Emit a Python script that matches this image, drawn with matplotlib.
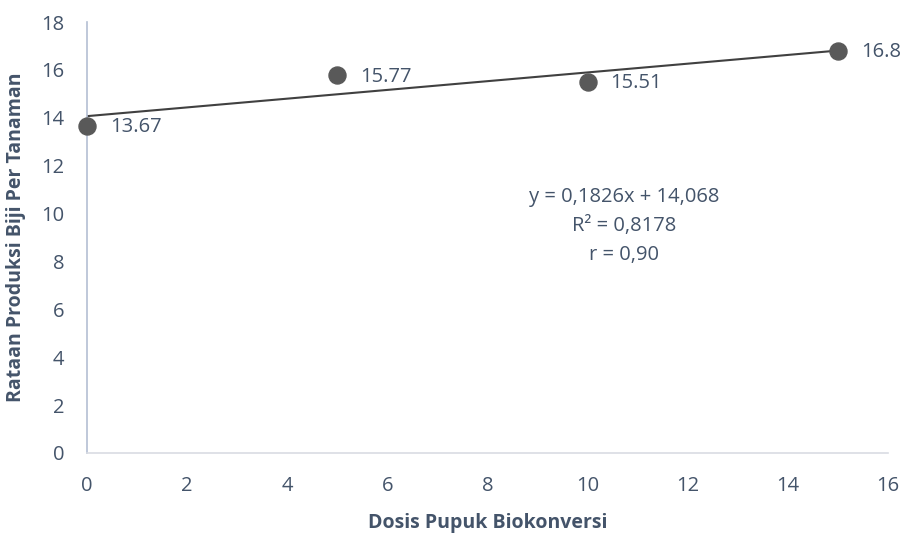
import matplotlib.pyplot as plt

dosis = [0, 5, 10, 15]
produksi = [13.67, 15.77, 15.51, 16.8]
labels = ["13.67", "15.77", "15.51", "16.8"]
slope = 0.1826
intercept = 14.068

plt.rcParams['font.family'] = ['Open Sans', 'DejaVu Sans']
txt = '#44546A'

fig = plt.figure(figsize=(9.05, 5.34), dpi=100)
ax = fig.add_axes([0.0961, 0.1517, 0.8851, 0.8071])

# trendline
tx = [dosis[0], dosis[-1]]
ty = [slope * v + intercept for v in tx]
ax.plot(tx, ty, color='#404040', lw=1.5, zorder=2)
ax.scatter(dosis, produksi, s=150, color='#595959', zorder=3, clip_on=False)
for x, y, l in zip(dosis, produksi, labels):
    ax.annotate(l, (x, y), xytext=(16.5, -1), textcoords='offset points',
                va='center', ha='left', fontsize=14.5, color=txt)

ax.text(10.73, 9.5, "y = 0,1826x + 14,068\nR² = 0,8178\nr = 0,90",
        ha='center', va='center', fontsize=14.5, color=txt, linespacing=1.6)

ax.set_xlim(0, 16)
ax.set_ylim(0, 18)
ax.set_xticks(range(0, 17, 2))
ax.set_yticks(range(0, 19, 2))
ax.tick_params(length=0, labelsize=14.5, labelcolor=txt, pad=16.5)
for s in ['top', 'right']:
    ax.spines[s].set_visible(False)
ax.spines['left'].set_color('#B4BFD3')
ax.spines['bottom'].set_color('#D9DCE3')
ax.spines['left'].set_linewidth(1.2)
ax.spines['bottom'].set_linewidth(1.2)

ax.set_xlabel('Dosis Pupuk Biokonversi', fontsize=14, fontweight='bold', color=txt, labelpad=12)
ax.set_ylabel('Rataan Produksi Biji Per Tanaman', fontsize=14, fontweight='bold', color=txt, labelpad=11)

fig.savefig('out.png', dpi=100)
